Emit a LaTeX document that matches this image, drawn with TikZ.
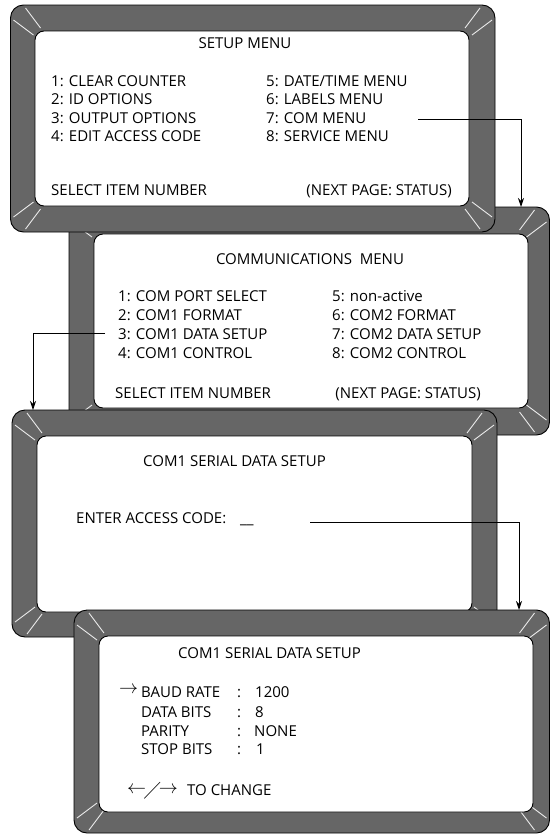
\RequirePackage{fix-cm}
\documentclass[tikz,border=0pt]{standalone}
\usepackage{amssymb}
\usepackage{fontspec}
\setmainfont{Open Sans}
\usetikzlibrary{arrows.meta}
\definecolor{bezelgray}{RGB}{102,102,102}
\tikzset{
  bezel/.style={draw=black, line width=0.9pt, fill=bezelgray, rounded corners=13pt},
  screen/.style={draw=black, line width=0.9pt, fill=white, rounded corners=9pt},
  ray/.style={draw=white!92!black, line width=0.9pt},
  txt/.style={anchor=base west, inner sep=0pt, font=\fontsize{15}{18}\selectfont},
  rtxt/.style={txt, anchor=base east},
  arr/.style={anchor=base west, inner sep=0pt, font=\fontsize{19}{20}\selectfont},
  conn/.style={draw=black, line width=0.9pt, -{Stealth[length=9pt,width=6pt]}},
}
% outer x1,y1,x2,y2 ; inner x1,y1,x2,y2
\newcommand\bezelframe[8]{%
  \draw[bezel] (#1,#2) rectangle (#3,#4);
  \draw[ray] (#1,#2) ++(15,3) -- ++(15,20);
  \draw[ray] (#1,#2) ++(3,15) -- ++(20,15);
  \draw[ray] (#3,#2) ++(-15,3) -- ++(-15,20);
  \draw[ray] (#3,#2) ++(-3,15) -- ++(-20,15);
  \draw[ray] (#1,#4) ++(15,-3) -- ++(15,-20);
  \draw[ray] (#1,#4) ++(3,-15) -- ++(20,-15);
  \draw[ray] (#3,#4) ++(-15,-3) -- ++(-15,-20);
  \draw[ray] (#3,#4) ++(-3,-15) -- ++(-20,-15);
  \draw[screen] (#5,#6) rectangle (#7,#8);
}
\begin{document}
\begin{tikzpicture}[x=1pt, y=-1pt]
\useasboundingbox (0,0) rectangle (549,835);

% ---------- Frame 2: communications menu (behind frames 1 and 3)
\bezelframe{69}{207}{549.5}{435}{94}{234}{528}{408}
\node[txt] (ct)  at (310,264) [anchor=base] {COMMUNICATIONS\ \ MENU};
\node[txt] (c1) at (118,301) {1: COM PORT SELECT};
\node[txt] (c2) at (118,320) {2: COM1 FORMAT};
\node[txt] (c3) at (118,339) {3: COM1 DATA SETUP};
\node[txt] (c4) at (118,358) {4: COM1 CONTROL};
\node[txt] (c5) at (332,301) {5: non-active};
\node[txt] (c6) at (332,320) {6: COM2 FORMAT};
\node[txt] (c7) at (332,339) {7: COM2 DATA SETUP};
\node[txt] (c8) at (332,358) {8: COM2 CONTROL};
\node[txt] (cs) at (115,398) {SELECT ITEM NUMBER};
\node[rtxt] (cn) at (481,398) {(NEXT PAGE: STATUS)};

% ---------- Frame 1: setup menu
\bezelframe{10.5}{5}{495}{232}{35}{31}{469}{206}
\node[txt] (st) at (245,48) [anchor=base] {SETUP MENU};
\node[txt] (s1) at (51,86) {1: CLEAR COUNTER};
\node[txt] (s2) at (51,104) {2: ID OPTIONS};
\node[txt] (s3) at (51,123) {3: OUTPUT OPTIONS};
\node[txt] (s4) at (51,141) {4: EDIT ACCESS CODE};
\node[txt] (s5) at (266,86) {5: DATE/TIME MENU};
\node[txt] (s6) at (266,104) {6: LABELS MENU};
\node[txt] (s7) at (266,123) {7: COM MENU};
\node[txt] (s8) at (266,141) {8: SERVICE MENU};
\node[txt] (ss) at (51,195) {SELECT ITEM NUMBER};
\node[rtxt] (sn) at (452,195) {(NEXT PAGE: STATUS)};

% ---------- Frame 3: access code
\bezelframe{12}{410}{497}{637}{37}{436}{472}{612}
\node[txt] (at) at (143,466) {COM1 SERIAL DATA SETUP};
\node[txt] (ae) at (76,523) {ENTER ACCESS CODE:};
\node[txt] (au) at (240,523) {\_\_};

% ---------- Frame 4: serial data setup
\bezelframe{74}{610}{549.5}{833}{99}{636}{533}{812}
\node[txt] (dt) at (178,658) {COM1 SERIAL DATA SETUP};
\node[arr] (dp) at (119,693.5) {$\rightarrow$};
\node[txt] (d1) at (141,697) {BAUD RATE};
\node[txt] (d2) at (141,717) {DATA BITS};
\node[txt] (d3) at (141,736) {PARITY};
\node[txt] (d4) at (141,754) {STOP BITS};
\node[txt] (k1) at (237,697) {:};
\node[txt] (k2) at (237,717) {:};
\node[txt] (k3) at (237,736) {:};
\node[txt] (k4) at (237,754) {:};
\node[txt] (v1) at (255,697) {1200};
\node[txt] (v2) at (255,717) {8};
\node[txt] (v3) at (254,736) {NONE};
\node[txt] (v4) at (256,754) {1};
\node[arr] (dlr) at (127,795) {$\raisebox{2pt}{$\leftarrow$}\mkern-2mu\diagup\mkern-2mu\raisebox{2pt}{$\rightarrow$}$};
\node[txt] (dtc) at (187,795) {TO CHANGE};

% ---------- connectors
\coordinate (a1s) at (418,119);
\coordinate (a1e) at (521,207);
\coordinate (a2s) at (105,333);
\coordinate (a2e) at (33,410);
\coordinate (a3s) at (310,522);
\coordinate (a3e) at (519,610);
\draw[conn] (a1s) -| (a1e);
\draw[conn] (a2s) -| (a2e);
\draw[conn] (a3s) -| (a3e);
\end{tikzpicture}
\end{document}
